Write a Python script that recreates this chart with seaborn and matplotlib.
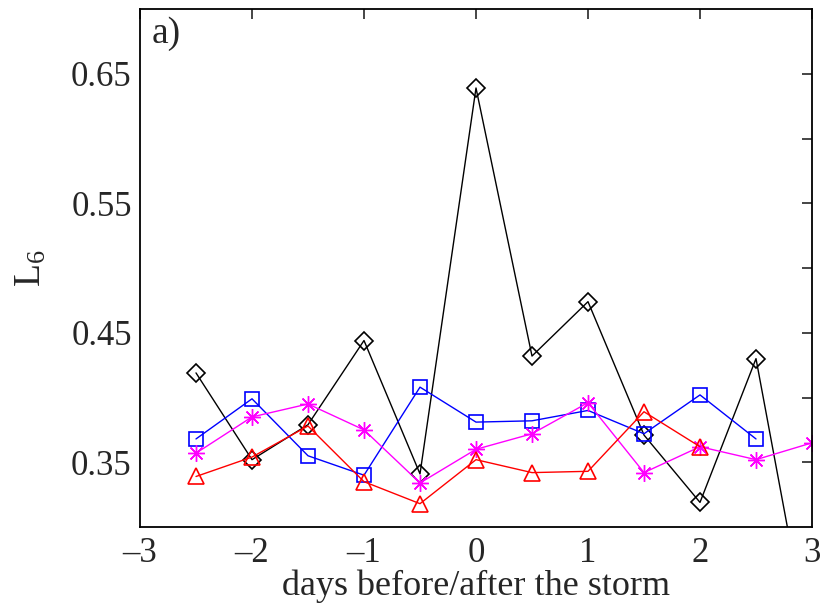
import matplotlib
matplotlib.use("Agg")
import matplotlib.pyplot as plt
from matplotlib.ticker import FixedLocator, NullFormatter
import seaborn as sns
import pandas as pd

# L6 index around the storm, one series per marker style
days_black = [-2.5, -2.0, -1.5, -1.0, -0.5, 0.0, 0.5, 1.0, 1.5, 2.0, 2.5, 3.0]
l6_black = [0.419, 0.352, 0.379, 0.444, 0.341, 0.639, 0.432, 0.474, 0.371, 0.319, 0.430, 0.198]

days_blue = [-2.5, -2.0, -1.5, -1.0, -0.5, 0.0, 0.5, 1.0, 1.5, 2.0, 2.5]
l6_blue = [0.368, 0.399, 0.355, 0.340, 0.408, 0.381, 0.382, 0.390, 0.372, 0.402, 0.368]

days_magenta = [-2.5, -2.0, -1.5, -1.0, -0.5, 0.0, 0.5, 1.0, 1.5, 2.0, 2.5, 3.0]
l6_magenta = [0.357, 0.385, 0.395, 0.375, 0.334, 0.360, 0.372, 0.396, 0.342, 0.362, 0.352, 0.365]

days_red = [-2.5, -2.0, -1.5, -1.0, -0.5, 0.0, 0.5, 1.0, 1.5, 2.0]
l6_red = [0.339, 0.354, 0.378, 0.335, 0.318, 0.352, 0.342, 0.343, 0.389, 0.362]

y_labeled = [0.35, 0.45, 0.55, 0.65]
y_unlabeled = [0.40, 0.50, 0.60]
x_ticks = [-3, -2, -1, 0, 1, 2, 3]

sns.set_style("white")
plt.rcParams["font.family"] = ["Liberation Serif", "DejaVu Serif"]
plt.rcParams["mathtext.fontset"] = "custom"
plt.rcParams["mathtext.rm"] = "Liberation Serif"
plt.rcParams["mathtext.it"] = "Liberation Serif:italic"

fig = plt.figure(figsize=(8.23, 6.08), dpi=100)
ax = fig.add_axes([140 / 823, 1 - 527 / 608, (812 - 140) / 823, (527 - 9) / 608])

series = [
    (days_black, l6_black, "black", "D", 9, 1.2),
    (days_blue, l6_blue, "blue", "s", 9.5, 1.2),
    (days_magenta, l6_magenta, "magenta", (8, 2, 0), 12, 1.0),
    (days_red, l6_red, "red", "^", 11.5, 1.2),
]

for xs, ys, col, mk, ms, mew in series:
    df = pd.DataFrame({"day": xs, "L6": ys})
    sns.lineplot(data=df, x="day", y="L6", ax=ax, color=col, lw=1.0,
                 marker=mk, markersize=ms, markerfacecolor="none",
                 markeredgecolor=col, markeredgewidth=mew, legend=False)

ax.set_xlim(-3, 3)
ax.set_ylim(0.30, 0.70)
ax.set_xticks(x_ticks)
ax.yaxis.set_major_locator(FixedLocator(y_labeled))
ax.yaxis.set_minor_locator(FixedLocator(y_unlabeled))
ax.yaxis.set_minor_formatter(NullFormatter())
ax.set_yticklabels([f"{v:.2f}" for v in y_labeled])
ax.set_xticklabels([f"{v}".replace("-", "\u2013") for v in x_ticks])

ax.tick_params(which="both", direction="in", length=7, width=1.2,
               top=True, right=True, labelsize=25)
ax.tick_params(axis="y", pad=6)
ax.tick_params(axis="x", pad=7)

for sp in ax.spines.values():
    sp.set_linewidth(1.3)
    sp.set_color("black")

ax.set_xlabel("days before/after the storm", fontsize=26, labelpad=0)
ax.set_ylabel(r"L$_6$", fontsize=27, labelpad=16)
ax.text(0.018, 0.985, "a)", transform=ax.transAxes, fontsize=27,
        va="top", ha="left")

fig.savefig("out.png", dpi=100)
